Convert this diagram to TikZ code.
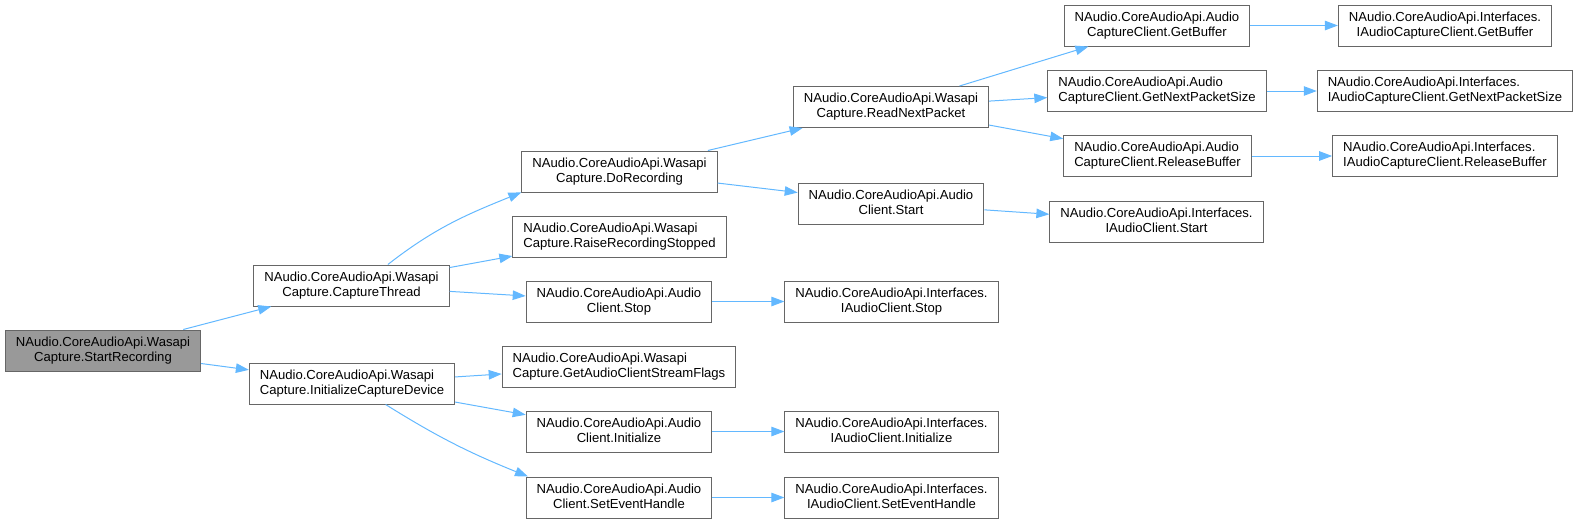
\documentclass[tikz,border=0pt]{standalone}
\usepackage{fontspec}
\setmainfont{Liberation Sans}
\usepackage{tikz}
\usetikzlibrary{calc,arrows.meta}
\usepackage{xcolor}
\definecolor{edgeblue}{HTML}{63B8FF}
\definecolor{boxgray}{HTML}{666666}
\definecolor{rootgray}{HTML}{999999}

\newcommand{\fname}[2]{%
  \setbox0=\hbox{#1}\setbox2=\hbox{#2}%
  \ifdim\wd0>\wd2 \dimen0=\wd0 \else \dimen0=\wd2 \fi
  \vbox{\hbox to\dimen0{\box0\hfil}\hbox to\dimen0{\hfil\box2\vrule width0pt depth3pt\hfil}}}

\begin{document}
\begin{tikzpicture}[
  x=1pt, y=1pt,
  font=\fontsize{13.1}{15}\selectfont,
  >={Triangle[length=13pt, width=9.5pt]},
  fn/.style={draw=boxgray, line width=1pt, fill=white, minimum height=41pt, inner xsep=10.5pt, inner ysep=2pt},
  root/.style={fn, fill=rootgray},
  call/.style={->, color=edgeblue, line width=1pt},
]
\useasboundingbox (0,0) rectangle (1580,-523);

\node[root] (SR)  at (103,-350.5)  {\fname{NAudio.CoreAudioApi.Wasapi}{Capture.StartRecording}};
\node[fn]   (CT)  at (351.5,-285.5) {\fname{NAudio.CoreAudioApi.Wasapi}{Capture.CaptureThread}};
\node[fn]   (ICD) at (352,-383.5)  {\fname{NAudio.CoreAudioApi.Wasapi}{Capture.InitializeCaptureDevice}};

\node[fn] (DR)     at (619.5,-171.5) {\fname{NAudio.CoreAudioApi.Wasapi}{Capture.DoRecording}};
\node[fn] (RRS)    at (619.5,-236.5) {\fname{NAudio.CoreAudioApi.Wasapi}{Capture.RaiseRecordingStopped}};
\node[fn] (ACStop) at (619,-301.5)   {\fname{NAudio.CoreAudioApi.Audio}{Client.Stop}};
\node[fn] (GSF)    at (619,-366.5)   {\fname{NAudio.CoreAudioApi.Wasapi}{Capture.GetAudioClientStreamFlags}};
\node[fn] (ACInit) at (619,-431.5)   {\fname{NAudio.CoreAudioApi.Audio}{Client.Initialize}};
\node[fn] (ACSeh)  at (619,-497.5)   {\fname{NAudio.CoreAudioApi.Audio}{Client.SetEventHandle}};

\node[fn] (RNP)     at (891,-107)    {\fname{NAudio.CoreAudioApi.Wasapi}{Capture.ReadNextPacket}};
\node[fn] (ACStart) at (891,-203.5)  {\fname{NAudio.CoreAudioApi.Audio}{Client.Start}};
\node[fn] (IStop)   at (891.5,-301.5) {\fname{NAudio.CoreAudioApi.Interfaces.}{IAudioClient.Stop}};
\node[fn] (IInit)   at (891.5,-431.5) {\fname{NAudio.CoreAudioApi.Interfaces.}{IAudioClient.Initialize}};
\node[fn] (ISeh)    at (891.5,-497.5) {\fname{NAudio.CoreAudioApi.Interfaces.}{IAudioClient.SetEventHandle}};

\node[fn] (CCGb)   at (1157,-25.5)   {\fname{NAudio.CoreAudioApi.Audio}{CaptureClient.GetBuffer}};
\node[fn] (CCNps)  at (1157,-91)     {\fname{NAudio.CoreAudioApi.Audio}{CaptureClient.GetNextPacketSize}};
\node[fn] (CCRb)   at (1157.5,-156)  {\fname{NAudio.CoreAudioApi.Audio}{CaptureClient.ReleaseBuffer}};
\node[fn] (IStart) at (1156.5,-221.5) {\fname{NAudio.CoreAudioApi.Interfaces.}{IAudioClient.Start}};

\node[fn] (ICGb)  at (1445,-25.5) {\fname{NAudio.CoreAudioApi.Interfaces.}{IAudioCaptureClient.GetBuffer}};
\node[fn] (ICNps) at (1445,-91)   {\fname{NAudio.CoreAudioApi.Interfaces.}{IAudioCaptureClient.GetNextPacketSize}};
\node[fn] (ICRb)  at (1445,-156)  {\fname{NAudio.CoreAudioApi.Interfaces.}{IAudioCaptureClient.ReleaseBuffer}};

\draw[call] (SR) -- (CT);
\draw[call] (SR) -- (ICD);

\draw[call] (CT.30) to[out=38, in=202] (DR.192);
\draw[call] (CT) -- (RRS);
\draw[call] (CT) -- (ACStop);

\draw[call] (ICD) -- (GSF);
\draw[call] (ICD) -- (ACInit);
\draw[call] (ICD.-32) to[out=-32, in=158] (ACSeh.167);

\draw[call] (DR) -- (RNP);
\draw[call] (DR) -- (ACStart);

\draw[call] (RNP) -- (CCGb);
\draw[call] (RNP) -- (CCNps);
\draw[call] (RNP) -- (CCRb);

\draw[call] (ACStart) -- (IStart);
\draw[call] (ACStop) -- (IStop);
\draw[call] (ACInit) -- (IInit);
\draw[call] (ACSeh) -- (ISeh);

\draw[call] (CCGb) -- (ICGb);
\draw[call] (CCNps) -- (ICNps);
\draw[call] (CCRb) -- (ICRb);

\end{tikzpicture}
\end{document}
